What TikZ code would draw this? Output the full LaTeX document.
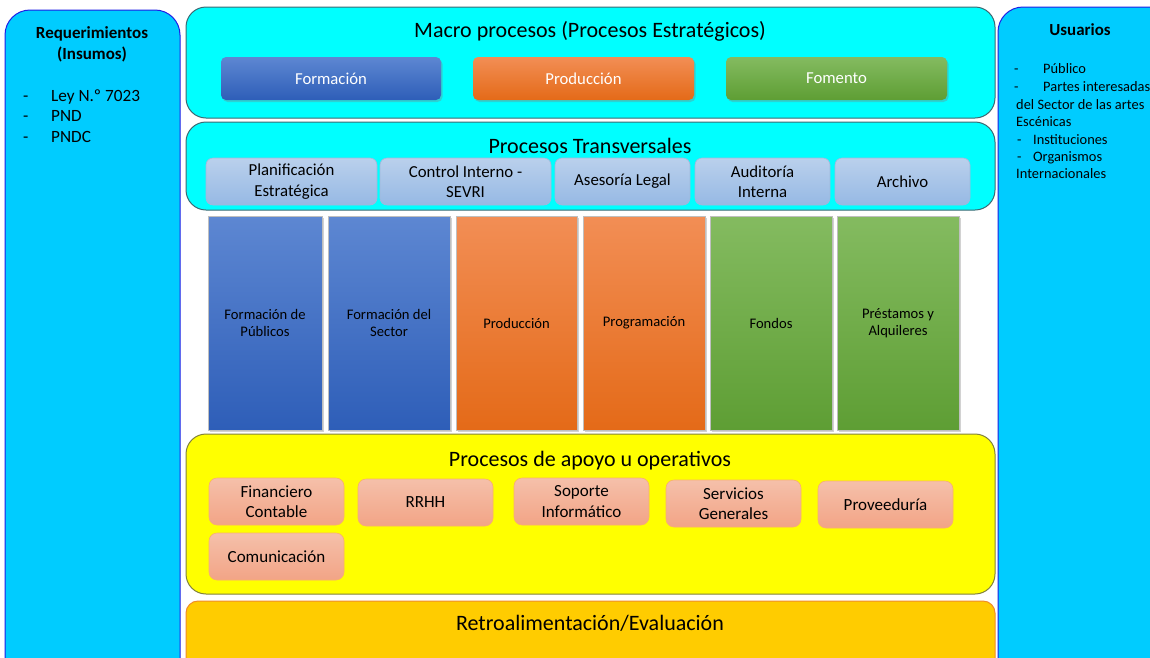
\documentclass[tikz,border=0pt]{standalone}
\usepackage{fontspec}
\setmainfont{Carlito}
\usetikzlibrary{shadows}
\definecolor{skyb}{RGB}{0,204,255}
\definecolor{panelline}{RGB}{30,30,230}
\definecolor{cyanf}{RGB}{0,255,255}
\definecolor{bandline}{RGB}{60,105,115}
\definecolor{yelf}{RGB}{255,255,0}
\definecolor{yelline}{RGB}{130,130,60}
\definecolor{retrof}{RGB}{255,204,0}
\definecolor{retroline}{RGB}{240,140,40}
\definecolor{blueT}{RGB}{93,135,210}
\definecolor{blueB}{RGB}{46,94,184}
\definecolor{orT}{RGB}{242,142,85}
\definecolor{orB}{RGB}{228,106,24}
\definecolor{grT}{RGB}{132,187,96}
\definecolor{grB}{RGB}{94,158,52}
\definecolor{lbT}{RGB}{186,208,236}
\definecolor{lbB}{RGB}{150,185,228}
\definecolor{lbline}{RGB}{160,185,220}
\definecolor{saT}{RGB}{245,192,170}
\definecolor{saB}{RGB}{242,164,134}
\definecolor{saline}{RGB}{248,176,110}
\begin{document}
\begin{tikzpicture}[x=1pt,y=-1pt,
  box/.style={anchor=north west, inner sep=0pt, outer sep=0pt, align=center},
  panel/.style={box, rounded corners=25pt, fill=skyb, draw=panelline, line width=1pt},
  band/.style={box, rounded corners=20pt, line width=1pt},
  titletext/.style={font=\fontsize{22}{26}\selectfont},
  btn/.style={box, rounded corners=5pt, text=white, font=\fontsize{16.7}{19}\selectfont,
    minimum height=43pt, drop shadow={shadow xshift=1.5pt, shadow yshift=-2pt, opacity=0.35}},
  tbox/.style={box, rounded corners=7pt, top color=lbT, bottom color=lbB, draw=lbline,
    line width=0.6pt, minimum height=47pt, font=\fontsize{16.8}{20.5}\selectfont},
  colbox/.style={box, minimum height=214pt, font=\fontsize{14.6}{17.5}\selectfont,
    draw=black!25, line width=0.5pt,
    drop shadow={shadow xshift=1.5pt, shadow yshift=-2pt, opacity=0.35}},
  pbox/.style={box, rounded corners=8pt, top color=saT, bottom color=saB, draw=saline,
    line width=0.6pt, minimum width=135pt, minimum height=47pt, font=\fontsize{17}{20.5}\selectfont},
  listtxt/.style={anchor=base west, inner sep=0pt},
  blueg/.style={top color=blueT, bottom color=blueB},
  orangeg/.style={top color=orT, bottom color=orB},
  greeng/.style={top color=grT, bottom color=grB}]
\useasboundingbox (0,0) rectangle (1150,657);
\clip (0,0) rectangle (1150,657);
\fill[white] (0,0) rectangle (1150,657);

% side panels
\node[panel, minimum width=175pt, minimum height=720pt] (req) at (5,10) {};
\node[font=\bfseries\fontsize{17}{21}\selectfont, align=center] (reqt) at (92,44) {Requerimientos\\(Insumos)};
\begin{scope}[font=\fontsize{17.2}{20}\selectfont]
\node[listtxt] (rd1) at (23,101) {-};
\node[listtxt] (r1) at (51,101) {Ley N.º 7023};
\node[listtxt] (rd2) at (23,121) {-};
\node[listtxt] (r2) at (51,121) {PND};
\node[listtxt] (rd3) at (23,142) {-};
\node[listtxt] (r3) at (51,142) {PNDC};
\end{scope}

\node[panel, minimum width=190pt, minimum height=720pt] (usr) at (998,7) {};
\node[font=\bfseries\fontsize{16.9}{19}\selectfont] (usrt) at (1080,29.5) {Usuarios};
\begin{scope}[font=\fontsize{14.4}{17}\selectfont]
\node[listtxt] (ud1) at (1014,73) {-};
\node[listtxt] (u1) at (1043,73) {Público};
\node[listtxt] (ud2) at (1014,91) {-};
\node[listtxt] (u2) at (1043,91) {Partes interesadas};
\node[listtxt] (u3) at (1016,109) {del Sector de las artes};
\node[listtxt] (u4) at (1016,126) {Escénicas};
\node[listtxt] (ud5) at (1017,144) {-};
\node[listtxt] (u5) at (1033,144) {Instituciones};
\node[listtxt] (ud6) at (1017,161) {-};
\node[listtxt] (u6) at (1033,161) {Organismos};
\node[listtxt] (u7) at (1016,178) {Internacionales};
\end{scope}

% Macro procesos
\node[band, fill=cyanf, draw=bandline, minimum width=809pt, minimum height=111pt] (macro) at (186,7) {};
\node[titletext] (macrot) at (590,31) {Macro procesos (Procesos Estratégicos)};
\node[btn, blueg, minimum width=220pt] (mform) at (221,57) {Formación};
\node[btn, orangeg, minimum width=221pt] (mprod) at (473,57) {Producción};
\node[btn, greeng, minimum width=221pt] (mfom) at (726,57) {Fomento};

% Procesos transversales
\node[band, fill=cyanf, draw=bandline, minimum width=809pt, minimum height=88pt] (trans) at (186,122) {};
\node[titletext] (transt) at (590,146) {Procesos Transversales};
\node[tbox, minimum width=171pt] (t1) at (206,158) {Planificación\\Estratégica};
\node[tbox, minimum width=171pt] (t2) at (380,158) {Control Interno -\\SEVRI};
\node[tbox, minimum width=135pt] (t3) at (555,158) {Asesoría Legal};
\node[tbox, minimum width=135pt] (t4) at (695,158) {Auditoría\\Interna};
\node[tbox, minimum width=135pt] (t5) at (835,158) {Archivo};

% columns
\node[colbox, blueg, minimum width=114pt] (c1) at (208,216) {Formación de\\Públicos};
\node[colbox, blueg, minimum width=122pt] (c2) at (328,216) {Formación del\\Sector};
\node[colbox, orangeg, minimum width=121pt] (c3) at (456,216) {Producción};
\node[colbox, orangeg, minimum width=122pt] (c4) at (583,216) {Programación};
\node[colbox, greeng, minimum width=122pt] (c5) at (710,216) {Fondos};
\node[colbox, greeng, minimum width=122pt] (c6) at (837,216) {Préstamos y\\Alquileres};

% apoyo
\node[band, fill=yelf, draw=yelline, minimum width=809pt, minimum height=160pt] (apoyo) at (186,434) {};
\node[titletext] (apoyot) at (590,461) {Procesos de apoyo u operativos};
\node[pbox] (p1) at (209,478) {Financiero\\Contable};
\node[pbox] (p2) at (358,479) {RRHH};
\node[pbox] (p3) at (514,478) {Soporte\\Informático};
\node[pbox] (p4) at (666,480) {Servicios\\Generales};
\node[pbox] (p5) at (818,481) {Proveeduría};
\node[pbox] (p6) at (209,533) {Comunicación};

% retro
\node[band, rounded corners=12pt, fill=retrof, draw=retroline, minimum width=809pt, minimum height=90pt] (retro) at (186,601) {};
\node[titletext] (retrot) at (590,623) {Retroalimentación/Evaluación};
\end{tikzpicture}
\end{document}
